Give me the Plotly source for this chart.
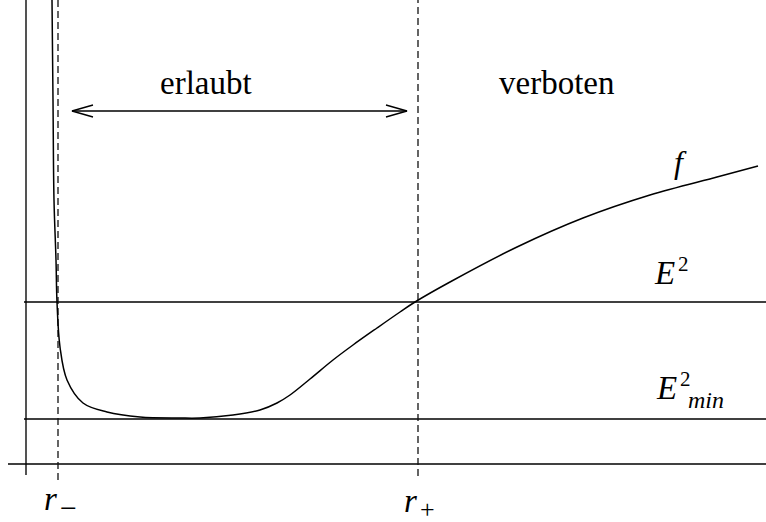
"""
Effective potential sketch: f(r) with E^2 and E^2_min levels,
turning points r- and r+, allowed / forbidden regions.
"""

import plotly.graph_objects as go

# curve f(r) (x = r, y = f)
r_vals = [26, 27, 28, 30, 31, 34, 41, 57, 81, 114, 154, 174, 207, 234, 251,
          264, 284, 307, 327, 351, 374, 389, 424, 491, 557, 624, 691, 732]
f_vals = [464, 364, 264, 204, 162, 117, 84, 61, 52, 47, 46, 46, 49, 54, 61,
          69, 85, 104, 119, 136, 152, 162, 182, 217, 246, 269, 287, 298]

E2 = 162
E2_min = 45
r_minus = 32
r_plus = 392

X_MIN, X_MAX = -26, 740
Y_MIN, Y_MAX = -58, 464

SERIF = "Liberation Serif"
INK = "#000000"
LW = 1.35

fig = go.Figure()

# axes
fig.add_scatter(x=[-18, X_MAX], y=[0, 0], mode="lines",
                line=dict(color=INK, width=LW), hoverinfo="skip")
fig.add_scatter(x=[0, 0], y=[-11, Y_MAX], mode="lines",
                line=dict(color=INK, width=LW), hoverinfo="skip")

# energy levels
for level in (E2, E2_min):
    fig.add_scatter(x=[-2, X_MAX], y=[level, level], mode="lines",
                    line=dict(color=INK, width=LW), hoverinfo="skip")

# turning points
fig.add_scatter(x=[r_minus, r_minus], y=[-16, Y_MAX], mode="lines",
                line=dict(color="#111", width=1.3, dash="7px,4px"), hoverinfo="skip")
fig.add_scatter(x=[r_plus, r_plus], y=[-12, Y_MAX], mode="lines",
                line=dict(color="#111", width=1.3, dash="7px,4px"), hoverinfo="skip")

# f(r)
fig.add_scatter(x=r_vals, y=f_vals, mode="lines",
                line=dict(color=INK, width=1.5, shape="spline", smoothing=1.0),
                hoverinfo="skip")

# double arrow across the allowed region
arrow_y = 353
a0, a1 = r_minus + 14, r_plus - 11
head_w, head_h = 21, 6
fig.add_scatter(x=[a0, a1], y=[arrow_y, arrow_y], mode="lines",
                line=dict(color=INK, width=LW), hoverinfo="skip")
fig.add_scatter(x=[a0 + head_w, a0, a0 + head_w],
                y=[arrow_y + head_h, arrow_y, arrow_y - head_h], mode="lines",
                line=dict(color=INK, width=LW), hoverinfo="skip")
fig.add_scatter(x=[a1 - head_w, a1, a1 - head_w],
                y=[arrow_y + head_h, arrow_y, arrow_y - head_h], mode="lines",
                line=dict(color=INK, width=LW), hoverinfo="skip")

# (text, x, y, font size, box height)
labels = [
    ("erlaubt", 180, 381, 33, None),
    ("verboten", 530, 381, 33, None),
    ("<i>f</i>", 654, 302, 32, None),
    ("<i>E</i>", 638, 191, 33, None),
    ("2", 657, 200, 21, None),
    ("<i>E</i>", 640, 76, 33, None),
    ("2", 659, 85, 21, None),
    ("<i>min</i>", 680, 64, 24, None),
    ("<i>r</i>", 24, -35, 33, None),
    ("\u2212", 42, -43, 30, 14),
    ("<i>r</i>", 384, -37, 33, None),
    ("+", 401, -45, 26, 14),
]
for text, x, y, size, h in labels:
    fig.add_annotation(x=x, y=y, text=text, showarrow=False,
                       xanchor="center", yanchor="middle", borderpad=0,
                       height=h,
                       font=dict(family=SERIF, size=size, color=INK))

fig.update_layout(
    width=766, height=522,
    margin=dict(l=0, r=0, t=0, b=0),
    paper_bgcolor="white", plot_bgcolor="white",
    showlegend=False, hovermode=False,
    xaxis=dict(range=[X_MIN, X_MAX], visible=False, fixedrange=True),
    yaxis=dict(range=[Y_MIN, Y_MAX], visible=False, fixedrange=True),
)

# drop the browser's default body margin so the figure sits at the page corner
fig.write_html("out.html", config={"displayModeBar": False},
               post_script="document.body.style.margin='0';document.body.style.overflow='hidden';")
